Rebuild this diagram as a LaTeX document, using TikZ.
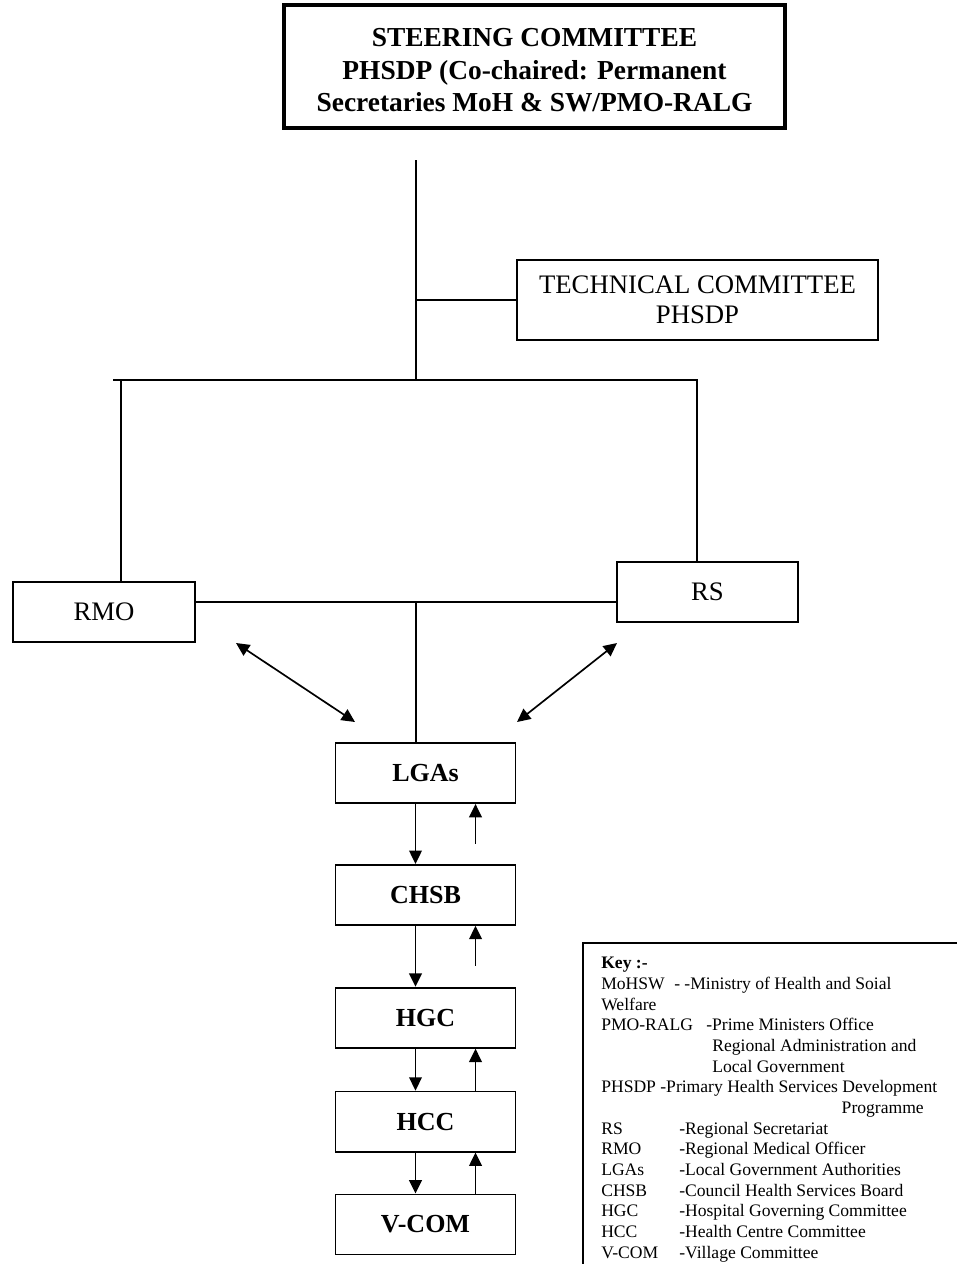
\documentclass[tikz,border=0pt]{standalone}
\usepackage{fontspec}
\setmainfont{Liberation Serif}
\usetikzlibrary{positioning}
\usetikzlibrary{arrows.meta}

\begin{document}
\begin{tikzpicture}[x=0.025cm, y=-0.025cm,
    >={Triangle[length=9.5pt,width=9pt]},
    link/.style={line width=0.9pt},
    flow/.style={line width=1.2pt},
    unitbox/.style={draw, line width=1.3pt, inner sep=0pt, minimum width=4.5cm, minimum height=1.5cm, font=\fontsize{18.5}{22}\selectfont\bfseries},
    areabox/.style={draw, line width=1.3pt, inner sep=0pt, minimum height=1.5cm, font=\fontsize{19}{22}\selectfont}]

\useasboundingbox (0,0) rectangle (957,1264);
\clip (0,0) rectangle (957,1264);

% committees
\node[draw, line width=3.2pt, inner sep=0pt, minimum width=12.525cm, minimum height=3.075cm, align=center,
    font=\fontsize{19.5}{23.1}\selectfont\bfseries] (steer) at (534.5,66.5)
    {\rule{0pt}{18.6pt}STEERING COMMITTEE\\PHSDP (Co-chaired: Permanent\\Secretaries MoH \& SW/PMO-RALG};
\node[draw, line width=1.3pt, inner sep=0pt, minimum width=9.025cm, minimum height=2cm, align=center,
    font=\fontsize{19}{21.5}\selectfont] (tech) at (697.5,300) {TECHNICAL COMMITTEE\\PHSDP};

% regional level
\node[areabox, minimum width=4.55cm] (rmo) at (104,612) {RMO};
\node[areabox, minimum width=4.525cm] (rs) at (707.5,592) {RS};

% council level and below
\node[unitbox] (lgas) at (425.5,773) {LGAs};
\node[unitbox, below=1.5cm of lgas] (chsb) {CHSB};
\node[unitbox, below=1.525cm of chsb] (hgc) {HGC};
\node[unitbox, below=1.05cm of hgc] (hcc) {HCC};
\node[unitbox, below=1.025cm of hcc] (vcom) {V-COM};

\coordinate (stem) at (416,160);
\coordinate (tee) at (416,300);
\coordinate (hub) at (416,380);
\coordinate (lend) at (113,380);
\coordinate (lturn) at (121,380);
\coordinate (rturn) at (697,380);
\coordinate (mid) at (416,602);

\draw[link] (stem) -- (hub);
\draw[link] (tee) -- (tech.west);
\draw[link] (lend) -- (rturn) -- (rturn |- rs.north);
\draw[link] (lturn) -- (lturn |- rmo.north);
\draw[link] (rmo.east |- mid) -- (rs.west |- mid);
\draw[link] (mid) -- (mid |- lgas.north);

% two-way links to the LGAs
\coordinate (rmotip) at (236,643);
\coordinate (lgastipl) at (355,722);
\coordinate (rstip) at (617,643);
\coordinate (lgastipr) at (517,722);
\draw[flow, <->] (rmotip) -- (lgastipl);
\draw[flow, <->] (rstip) -- (lgastipr);

% down the chain
\draw[flow, ->] ([xshift=-0.25cm]lgas.south) -- ([xshift=-0.25cm]chsb.north);
\draw[flow, ->] ([xshift=-0.25cm]chsb.south) -- ([xshift=-0.25cm]hgc.north);
\draw[flow, ->] ([xshift=-0.25cm]hgc.south) -- ([xshift=-0.25cm]hcc.north);
\draw[flow, ->] ([xshift=-0.25cm]hcc.south) -- ([xshift=-0.25cm]vcom.north);

% up the chain
\draw[flow, ->] ([xshift=1.25cm,yshift=-1cm]lgas.south) -- ([xshift=1.25cm]lgas.south);
\draw[flow, ->] ([xshift=1.25cm,yshift=-1cm]chsb.south) -- ([xshift=1.25cm]chsb.south);
\draw[flow, ->] ([xshift=1.25cm]hcc.north) -- ([xshift=1.25cm]hgc.south);
\draw[flow, ->] ([xshift=1.25cm]vcom.north) -- ([xshift=1.25cm]hcc.south);

% key
\draw[line width=1.3pt] (583,943) rectangle (990,1300);
\node[anchor=north west, inner sep=0pt, align=left, font=\fontsize{12.5}{14.7}\selectfont] (keytext) at (601,957)
    {\textbf{Key :-}\\
    \makebox[51.9pt][l]{MoHSW}- -Ministry of Health and Soial\\
    Welfare\\
    \makebox[74.7pt][l]{PMO-RALG}-Prime Ministers Office\\
    \hspace*{79pt}Regional Administration and\\
    \hspace*{79pt}Local Government\\
    PHSDP -Primary Health Services Development\\
    \hspace*{171pt}Programme\\
    \makebox[55.5pt][l]{RS}-Regional Secretariat\\
    \makebox[55.5pt][l]{RMO}-Regional Medical Officer\\
    \makebox[55.5pt][l]{LGAs}-Local Government Authorities\\
    \makebox[55.5pt][l]{CHSB}-Council Health Services Board\\
    \makebox[55.5pt][l]{HGC}-Hospital Governing Committee\\
    \makebox[55.5pt][l]{HCC}-Health Centre Committee\\
    \makebox[55.5pt][l]{V-COM}-Village Committee};

\end{tikzpicture}
\end{document}
